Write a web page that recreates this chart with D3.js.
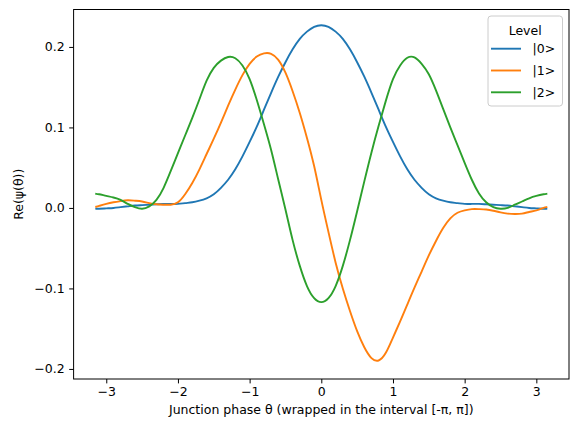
<!DOCTYPE html>
<html>
<head>
<meta charset="utf-8">
<script src="https://cdn.jsdelivr.net/npm/d3@7"></script>
<style>
  body { margin: 0; background: #ffffff; }
  text { font-family: "DejaVu Sans", sans-serif; }
</style>
</head>
<body>
<div id="container"></div>
<script>
// junction phase samples (x) and the three wavefunctions
var theta = [-3.14, -3.1, -3.0, -2.9, -2.8, -2.7, -2.6, -2.5, -2.4, -2.3,
             -2.2, -2.1, -2.0, -1.9, -1.8, -1.7, -1.6, -1.5, -1.4, -1.3,
             -1.2, -1.1, -1.0, -0.9, -0.8, -0.7, -0.6, -0.5, -0.4, -0.3,
             -0.2, -0.1, 0.0, 0.1, 0.2, 0.3, 0.4, 0.5, 0.6, 0.7,
             0.8, 0.9, 1.0, 1.1, 1.2, 1.3, 1.4, 1.5, 1.6, 1.7,
             1.8, 1.9, 2.0, 2.1, 2.2, 2.3, 2.4, 2.5, 2.6, 2.7,
             2.8, 2.9, 3.0, 3.1, 3.14];

// |0>
var psi0 = [-0.001, -0.001, -0.0005, 0.0, 0.001, 0.002, 0.003, 0.0035, 0.004, 0.0045,
            0.005, 0.005, 0.005, 0.006, 0.007, 0.009, 0.012, 0.017, 0.025, 0.035,
            0.048, 0.064, 0.082, 0.101, 0.122, 0.143, 0.163, 0.181, 0.197, 0.210,
            0.219, 0.225, 0.227, 0.225, 0.219, 0.210, 0.197, 0.181, 0.163, 0.143,
            0.122, 0.101, 0.082, 0.064, 0.048, 0.035, 0.025, 0.017, 0.012, 0.009,
            0.007, 0.006, 0.005, 0.005, 0.005, 0.0045, 0.004, 0.0035, 0.003, 0.002,
            0.001, 0.0, -0.0005, -0.001, -0.001];

// |1>
var psi1 = [0.0015, 0.0025, 0.005, 0.007, 0.0085, 0.0095, 0.009, 0.008, 0.006, 0.0045,
            0.004, 0.004, 0.007, 0.017, 0.031, 0.048, 0.067, 0.086, 0.106, 0.127,
            0.147, 0.165, 0.179, 0.188, 0.192, 0.1915, 0.184, 0.168, 0.145, 0.118,
            0.087, 0.052, 0.010, -0.030, -0.068, -0.100, -0.128, -0.153, -0.173, -0.1865,
            -0.1895, -0.180, -0.161, -0.141, -0.120, -0.099, -0.079, -0.059, -0.041, -0.025,
            -0.013, -0.006, -0.003, -0.0015, -0.0015, -0.002, -0.0035, -0.0055, -0.007, -0.0075,
            -0.007, -0.005, -0.003, 0.0, 0.001];

// |2>
var psi2 = [0.0175, 0.017, 0.015, 0.013, 0.010, 0.005, 0.001, -0.001, 0.002, 0.010,
            0.025, 0.046, 0.068, 0.090, 0.112, 0.135, 0.158, 0.174, 0.183, 0.1875,
            0.186, 0.177, 0.160, 0.134, 0.104, 0.072, 0.035, -0.002, -0.040, -0.072,
            -0.097, -0.112, -0.117, -0.112, -0.097, -0.072, -0.040, -0.004, 0.033, 0.069,
            0.102, 0.133, 0.160, 0.177, 0.1865, 0.187, 0.179, 0.166, 0.146, 0.123,
            0.100, 0.078, 0.056, 0.035, 0.018, 0.007, 0.001, -0.001, 0.000, 0.004,
            0.008, 0.012, 0.015, 0.017, 0.0175];

var levels = ["|0>", "|1>", "|2>"];
var colors = ["#1f77b4", "#ff7f0e", "#2ca02c"];

var xTicks = [-3, -2, -1, 0, 1, 2, 3];
var yTicks = [-0.2, -0.1, 0.0, 0.1, 0.2];

var xDomain = [-3.4558, 3.4558];
var yDomain = [-0.2125, 0.2465];

var W = 578, H = 432;
var box = {left: 73.6, right: 569, top: 9.5, bottom: 379};

var svg = d3.select("#container")
  .append("svg")
    .attr("width", W)
    .attr("height", H);

var x = d3.scaleLinear().domain(xDomain).range([box.left, box.right]);
var y = d3.scaleLinear().domain(yDomain).range([box.bottom, box.top]);

// curves (natural spline through the samples)
var series = [psi0, psi1, psi2];
var line = d3.line()
  .x(function (d) { return x(d[0]); })
  .y(function (d) { return y(d[1]); })
  .curve(d3.curveNatural);

svg.append("g")
  .selectAll("path")
  .data(series)
  .enter()
  .append("path")
    .attr("d", function (s) { return line(d3.zip(theta, s)); })
    .attr("fill", "none")
    .attr("stroke", function (s, i) { return colors[i]; })
    .attr("stroke-width", 1.9)
    .attr("stroke-linejoin", "round")
    .attr("stroke-linecap", "square");

// axes
var xAxis = svg.append("g")
  .attr("transform", "translate(0," + box.bottom + ")")
  .call(d3.axisBottom(x).tickValues(xTicks).tickFormat(d3.format("d"))
        .tickSize(4.4).tickPadding(4.2));

var yAxis = svg.append("g")
  .attr("transform", "translate(" + box.left + ",0)")
  .call(d3.axisLeft(y).tickValues(yTicks).tickFormat(d3.format(".1f"))
        .tickSize(4.4).tickPadding(4.6));

[xAxis, yAxis].forEach(function (g) {
  g.select(".domain").remove();
  g.selectAll("line").attr("stroke", "#000").attr("stroke-width", 1);
  g.selectAll("text")
    .attr("fill", "#000")
    .style("font-family", "DejaVu Sans")
    .style("font-size", "12.5px");
});

// frame
svg.append("rect")
  .attr("x", box.left)
  .attr("y", box.top)
  .attr("width", box.right - box.left)
  .attr("height", box.bottom - box.top)
  .attr("fill", "none")
  .attr("stroke", "#000")
  .attr("stroke-width", 1);

// axis labels
svg.append("text")
  .attr("x", (box.left + box.right) / 2)
  .attr("y", 413.5)
  .attr("text-anchor", "middle")
  .style("font-size", "12.5px")
  .text("Junction phase θ (wrapped in the interval [-π, π])");

svg.append("text")
  .attr("transform", "translate(23," + (box.top + box.bottom) / 2 + ") rotate(-90)")
  .attr("text-anchor", "middle")
  .style("font-size", "12.5px")
  .text("Re(ψ(θ))");

// legend
var leg = svg.append("g");
leg.append("rect")
  .attr("x", 488)
  .attr("y", 16)
  .attr("width", 74.5)
  .attr("height", 90)
  .attr("rx", 3)
  .attr("fill", "#fff")
  .attr("fill-opacity", 0.8)
  .attr("stroke", "#cccccc")
  .attr("stroke-width", 1);

leg.append("text")
  .attr("x", 525.2)
  .attr("y", 35)
  .attr("text-anchor", "middle")
  .style("font-size", "12.5px")
  .text("Level");

var rows = leg.selectAll("g.row")
  .data(levels)
  .enter()
  .append("g")
    .attr("class", "row")
    .attr("transform", function (d, i) { return "translate(0," + (48.7 + i * 21.8) + ")"; });

rows.append("line")
  .attr("x1", 491).attr("x2", 521)
  .attr("y1", 0).attr("y2", 0)
  .attr("stroke", function (d, i) { return colors[i]; })
  .attr("stroke-width", 1.9);

rows.append("text")
  .attr("x", 532.5)
  .attr("y", 4.6)
  .style("font-size", "12.5px")
  .text(function (d) { return d; });
</script>
</body>
</html>
